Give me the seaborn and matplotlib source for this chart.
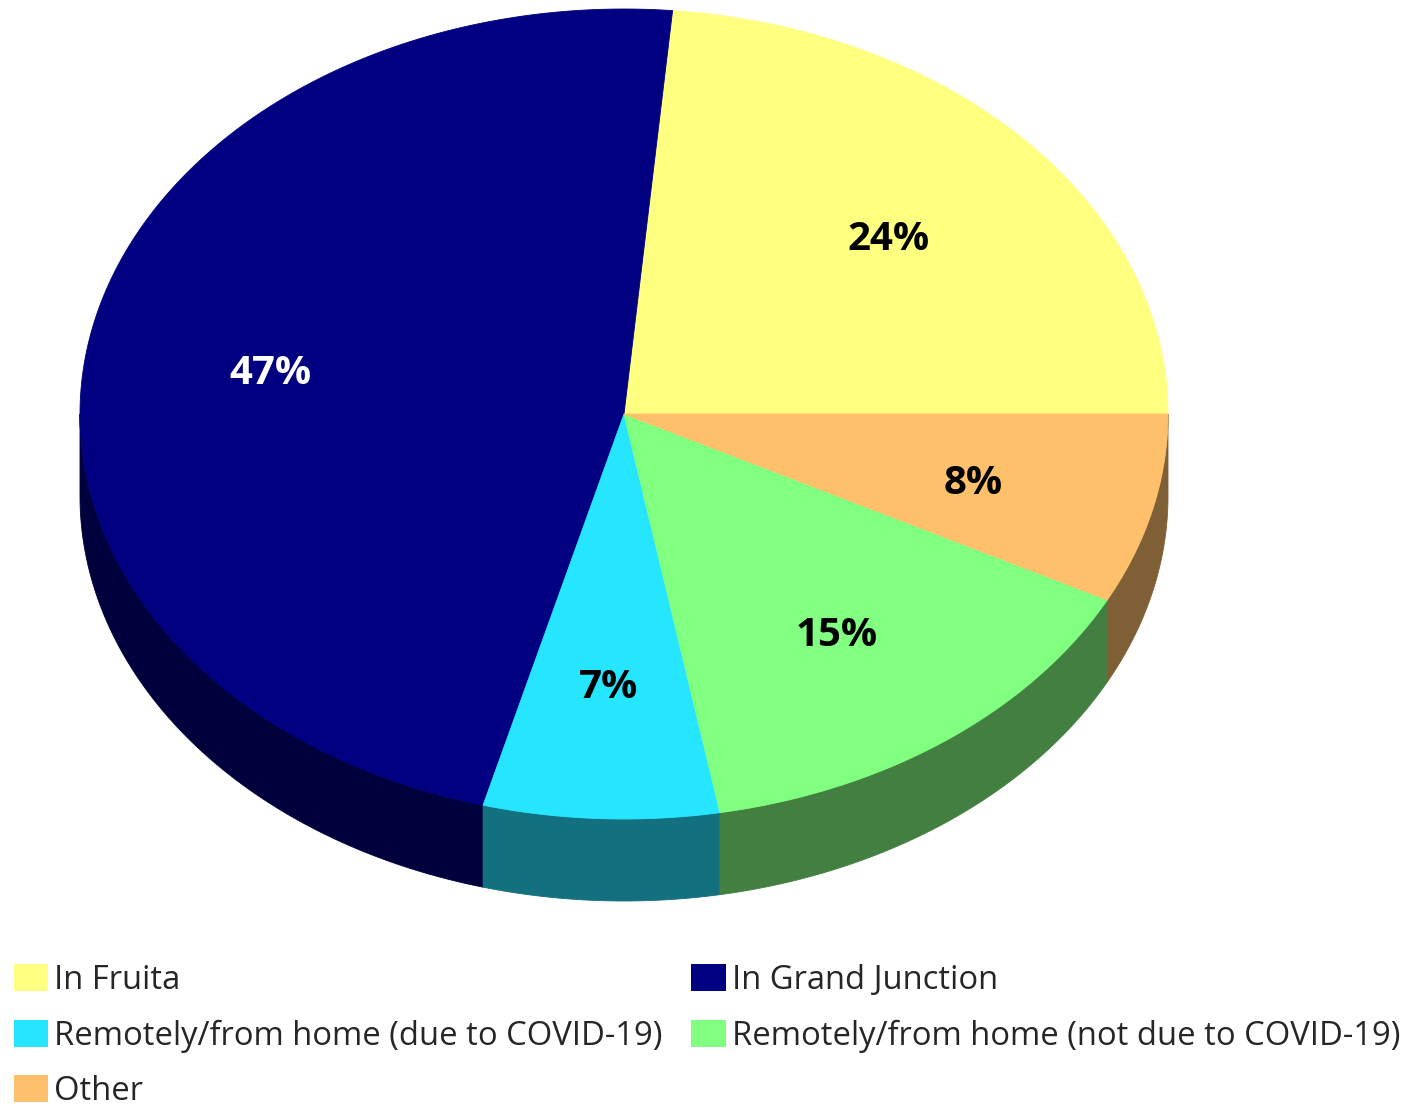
import numpy as np
import matplotlib
matplotlib.use("Agg")
import matplotlib.pyplot as plt
from matplotlib.patches import Polygon, Patch
import seaborn as sns

# ---- data ----
categories = ["In Fruita", "In Grand Junction", "Remotely/from home (due to COVID-19)",
              "Remotely/from home (not due to COVID-19)", "Other"]
values = [23.6, 47.3, 7.0, 14.6, 7.6]
top_colors = ["#FFFF80", "#000080", "#25E5FF", "#80FF80", "#FFC06B"]
side_colors = ["#808040", "#00003C", "#13707F", "#427F40", "#7F5F35"]
label_colors = ["black", "white", "black", "black", "black"]

sns.set_theme(style="white")
plt.rcParams["font.family"] = ["Open Sans", "DejaVu Sans"]

W, H = 1416, 1108
fig = plt.figure(figsize=(W / 100, H / 100), dpi=100)
ax = fig.add_axes([0, 0, 1, 1])
ax.set_xlim(0, W)
ax.set_ylim(H, 0)
ax.axis("off")

cx, cy, rx, ry, depth = 624, 414, 544, 405, 82

vals = np.array(values, dtype=float)
fr = vals / vals.sum()
edges = np.concatenate([[0], np.cumsum(fr) * 360])

def pt(t):
    r = np.deg2rad(t)
    return cx + rx * np.cos(r), cy - ry * np.sin(r)

# sides (front half: 180..360 deg)
for i in range(len(vals)):
    a0, a1 = edges[i], edges[i + 1]
    s0, s1 = max(a0, 180), min(a1, 360)
    if s1 <= s0:
        continue
    ts = np.linspace(s0, s1, 200)
    xs, ys = pt(ts)
    poly = np.column_stack([np.concatenate([xs, xs[::-1]]),
                            np.concatenate([ys, ys[::-1] + depth])])
    ax.add_patch(Polygon(poly, closed=True, facecolor=side_colors[i],
                         edgecolor=side_colors[i], linewidth=0.6))

# tops
for i in range(len(vals)):
    a0, a1 = edges[i], edges[i + 1]
    ts = np.linspace(a0, a1, 400)
    xs, ys = pt(ts)
    poly = np.column_stack([np.concatenate([[cx], xs]), np.concatenate([[cy], ys])])
    ax.add_patch(Polygon(poly, closed=True, facecolor=top_colors[i],
                         edgecolor=top_colors[i], linewidth=0.6))
    mid = (a0 + a1) / 2
    r = np.deg2rad(mid)
    lx = cx + 0.66 * rx * np.cos(r)
    ly = cy - 0.66 * ry * np.sin(r) + 6
    ax.text(lx, ly, f"{round(fr[i] * 100):.0f}%", ha="center", va="center",
            fontsize=29, fontweight="bold", color=label_colors[i])

# legend (row-major order with 2 columns)
order = [0, 2, 4, 1, 3]
handles = [Patch(facecolor=top_colors[k], edgecolor="none") for k in order]
labels = [categories[k] for k in order]
leg = ax.legend(handles, labels, ncol=2, loc="upper left",
                bbox_to_anchor=(14 / W, 1 - 964 / H), bbox_transform=fig.transFigure,
                frameon=False, fontsize=23.6, handlelength=1.05, handleheight=0.9,
                handletextpad=0.18, columnspacing=0.87, labelspacing=0.68,
                borderpad=0, borderaxespad=0)

fig.savefig("out.png", dpi=100)
